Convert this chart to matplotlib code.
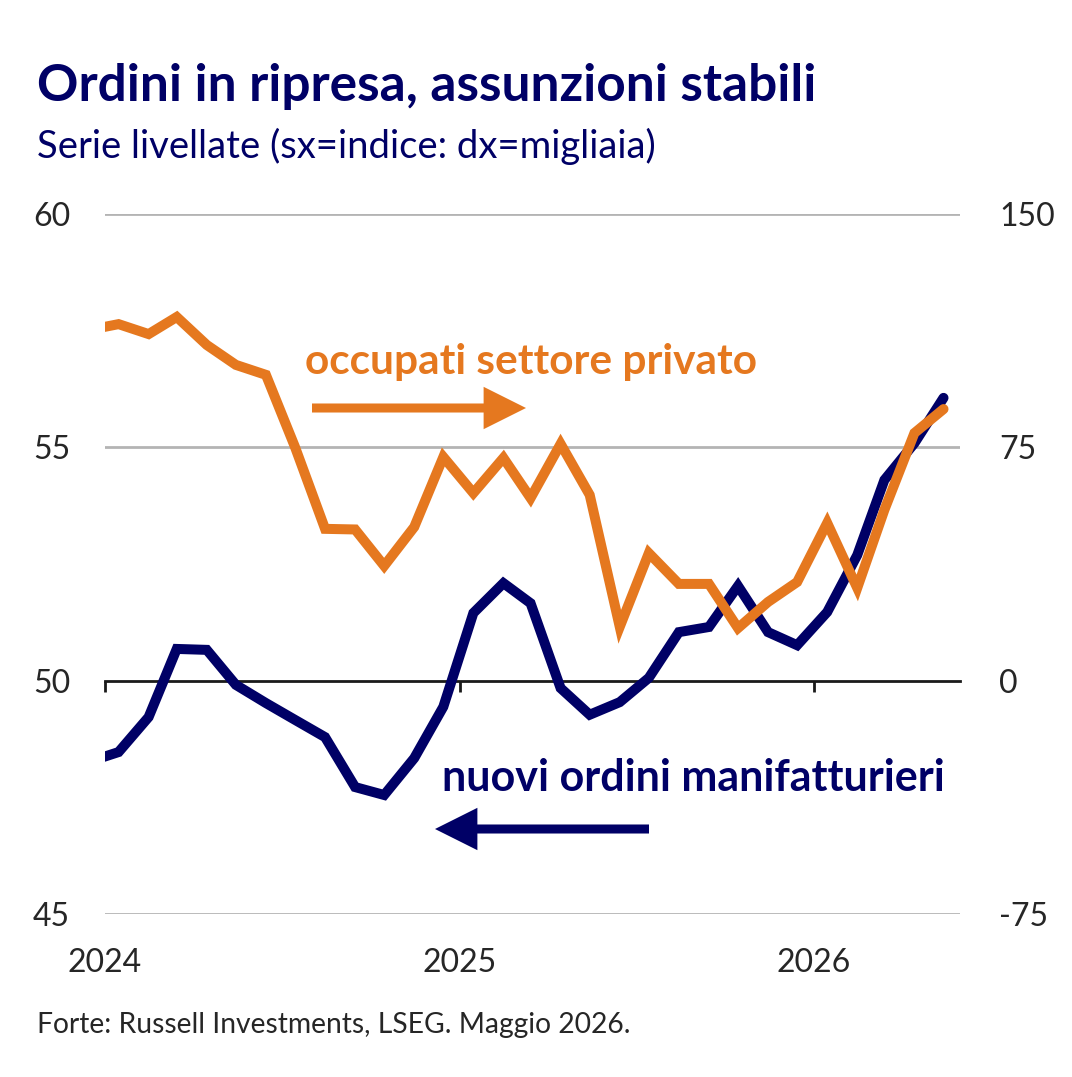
import matplotlib
matplotlib.use("Agg")
import matplotlib.pyplot as plt
import pandas as pd
import numpy as np

# ---- data ----
dates = pd.date_range("2023-12-01", periods=30, freq="MS") + pd.Timedelta(days=14)

# nuovi ordini manifatturieri (left axis, index)
orders = [48.26, 48.47, 49.22, 50.68, 50.66, 49.91, 49.52, 49.16, 48.79, 47.72,
          47.55, 48.34, 49.44, 51.45, 52.09, 51.66, 49.84, 49.27, 49.54, 50.06,
          51.04, 51.15, 52.03, 51.04, 50.76, 51.47, 52.69, 54.30, 55.09, 56.06]

# occupati settore privato (right axis, thousands)
payrolls = [112.7, 114.6, 111.4, 116.9, 107.9, 101.5, 98.3, 75.1, 48.8, 48.6,
            36.9, 49.4, 71.9, 60.3, 71.6, 58.7, 76.1, 59.7, 17.3, 41.0,
            31.1, 31.1, 16.9, 25.3, 31.7, 50.7, 29.8, 54.9, 79.6, 87.3]

left_ticks = [45, 50, 55, 60]
right_ticks = [-75, 0, 75, 150]
year_ticks = ["2024", "2025", "2026"]

title = "Ordini in ripresa, assunzioni stabili"
subtitle = "Serie livellate (sx=indice: dx=migliaia)"
source = "Forte: Russell Investments, LSEG. Maggio 2026."
label_pay = "occupati settore privato"
label_ord = "nuovi ordini manifatturieri"

NAVY = "#000066"
ORANGE = "#E5781F"
GREY = "#B4B4B4"
TXT = "#262626"

plt.rcParams["font.family"] = ["Lato", "DejaVu Sans"]

W, H = 1072, 1077
fig = plt.figure(figsize=(W / 100, H / 100), dpi=100)

def fx(x):
    return x / W

def fy(y):
    return 1 - y / H

ax = fig.add_axes([fx(105), fy(914), fx(960) - fx(105), fy(214) - fy(914)])
ax2 = ax.twinx()

x0 = pd.Timestamp("2024-01-01")
x1 = pd.Timestamp("2026-06-01")

for a in (ax, ax2):
    a.set_xlim(x0, x1)
    for s in ("top", "right", "left"):
        a.spines[s].set_visible(False)
ax2.spines["bottom"].set_visible(False)

ax.set_ylim(45, 60)
ax2.set_ylim(-75, 150)

# grid lines
for v in left_ticks:
    if v != 50:
        ax.axhline(v, color=GREY, lw=2.0, zorder=1)

ax.spines["bottom"].set_position(("data", 50))
ax.spines["bottom"].set_color("#1a1a1a")
ax.spines["bottom"].set_linewidth(2.0)
ax.spines["bottom"].set_zorder(1.5)

tick_dates = [pd.Timestamp(f"{y}-01-01") for y in year_ticks]
ax.set_xticks(tick_dates)
ax.tick_params(axis="x", length=8, width=2.0, color="#1a1a1a", labelbottom=False)
ax2.tick_params(axis="x", length=0, labelbottom=False)
for d, lab in zip(tick_dates, year_ticks):
    ax.text(d, -0.07, lab, transform=ax.get_xaxis_transform(), ha="center",
            va="center", fontsize=23, color=TXT)

ax.set_yticks(left_ticks)
ax.set_yticklabels([str(v) for v in left_ticks])
ax.tick_params(axis="y", length=0, pad=25, labelsize=23, labelcolor=TXT)
ax2.set_yticks(right_ticks)
ax2.set_yticklabels([str(v) for v in right_ticks])
ax2.tick_params(axis="y", length=0, pad=28, labelsize=23, labelcolor=TXT)

ax.plot(dates, orders, color=NAVY, lw=7.2, solid_joinstyle="miter",
        solid_capstyle="round", zorder=3)
ax2.plot(dates, payrolls, color=ORANGE, lw=7.2, solid_joinstyle="miter",
         solid_capstyle="round", zorder=3)

# titles
fig.text(fx(37), fy(101), title, fontsize=37, fontweight="bold", color=NAVY,
         va="baseline", ha="left")
fig.text(fx(37), fy(158), subtitle, fontsize=27.5, color=NAVY, va="baseline", ha="left")
fig.text(fx(37), fy(1033), source, fontsize=20.3, color=TXT, va="baseline", ha="left")

# series labels
fig.text(fx(305), fy(374), label_pay, fontsize=30.5, fontweight="bold", color=ORANGE,
         va="baseline", ha="left")
fig.text(fx(442), fy(791), label_ord, fontsize=31, fontweight="bold", color=NAVY,
         va="baseline", ha="left")

# arrows
def arrow(xs, xe, y, col):
    fig.add_artist(matplotlib.patches.FancyArrowPatch(
        (fx(xs), fy(y)), (fx(xe), fy(y)), transform=fig.transFigure,
        arrowstyle="-|>,head_length=0.4,head_width=0.2", mutation_scale=50,
        lw=6.5, color=col, shrinkA=0, shrinkB=0, joinstyle="miter", capstyle="butt"))

arrow(312, 526, 408, ORANGE)
arrow(649, 435, 829, NAVY)

fig.savefig("out.png", dpi=100, facecolor="white")
